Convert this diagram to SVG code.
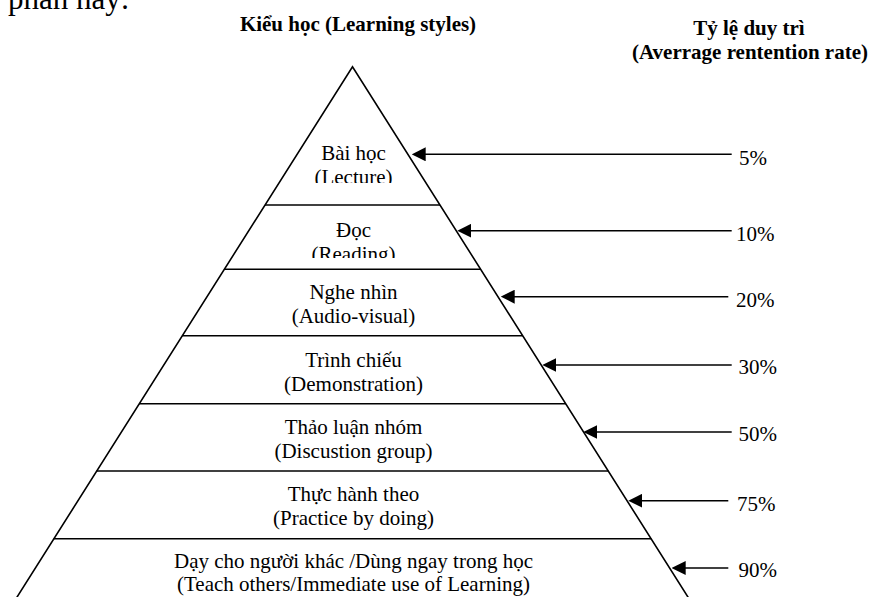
<svg xmlns="http://www.w3.org/2000/svg" width="872" height="597" viewBox="0 0 872 597">
<defs>
<style>
.t{font-family:"Liberation Serif","Times New Roman",serif;font-size:21px;fill:#000;text-anchor:middle}
.b{font-weight:bold}
.p{text-anchor:start}
.edge{fill:none;stroke:#000;stroke-width:1.6}
.sep{stroke:#000;stroke-width:1.6}
.arr{stroke:#000;stroke-width:1.6;marker-end:url(#ah)}
</style>
<marker id="ah" viewBox="0 0 14 14" refX="4" refY="7" markerWidth="14" markerHeight="14" markerUnits="userSpaceOnUse" orient="auto">
<path d="M0,0 L14,7 L0,14 z" fill="#000"/>
</marker>
<clipPath id="c1"><rect x="0" y="100" width="872" height="83"/></clipPath>
<clipPath id="c2"><rect x="0" y="206" width="872" height="52"/></clipPath>
</defs>
<rect width="872" height="597" fill="#fff"/>
<text class="t p" x="8" y="9" style="font-size:31px">phần này:</text>
<text class="t b" x="358" y="31">Kiểu học (Learning styles)</text>
<g id="title-rate">
<text class="t b" x="749" y="35">Tỷ lệ duy trì</text>
<text class="t b" x="750" y="59">(Averrage rentention rate)</text>
</g>
<g id="pyramid">
<polyline class="edge" points="13.9,602 352.5,66.7 691.1,602"/>
</g>
<g id="layer-lecture" clip-path="url(#c1)">
<text class="t" x="353.5" y="160">Bài học</text>
<text class="t" x="353.5" y="184">(Lecture)</text>
</g>
<g id="layer-reading">
<line class="sep" x1="265" y1="205" x2="440" y2="205"/>
<g clip-path="url(#c2)">
<text class="t" x="353.5" y="236.5">Đọc</text>
<text class="t" x="353.5" y="260.5">(Reading)</text>
</g>
</g>
<g id="layer-audio">
<line class="sep" x1="224.3" y1="269.3" x2="480.7" y2="269.3"/>
<text class="t" x="353.5" y="299.3">Nghe nhìn</text>
<text class="t" x="353.5" y="323.3">(Audio-visual)</text>
</g>
<g id="layer-demo">
<line class="sep" x1="182.2" y1="335.7" x2="522.8" y2="335.7"/>
<text class="t" x="353.5" y="366.7">Trình chiếu</text>
<text class="t" x="353.5" y="390.5">(Demonstration)</text>
</g>
<g id="layer-discussion">
<line class="sep" x1="139.1" y1="403.8" x2="565.9" y2="403.8"/>
<text class="t" x="353.5" y="434">Thảo luận nhóm</text>
<text class="t" x="353.5" y="457.5">(Discustion group)</text>
</g>
<g id="layer-practice">
<line class="sep" x1="96.6" y1="471" x2="608.4" y2="471"/>
<text class="t" x="353.5" y="501">Thực hành theo</text>
<text class="t" x="353.5" y="525">(Practice by doing)</text>
</g>
<g id="layer-teach">
<line class="sep" x1="53.7" y1="538.7" x2="651.3" y2="538.7"/>
<text class="t" x="353.5" y="567.5">Dạy cho người khác /Dùng ngay trong học</text>
<text class="t" x="353.5" y="591">(Teach others/Immediate use of Learning)</text>
</g>
<g id="rates">
<text class="t p" x="739" y="164.5">5%</text>
<text class="t p" x="736" y="240.5">10%</text>
<text class="t p" x="736" y="306.5">20%</text>
<text class="t p" x="738.5" y="374">30%</text>
<text class="t p" x="738.5" y="441">50%</text>
<text class="t p" x="737" y="510.5">75%</text>
<text class="t p" x="738.5" y="577">90%</text>
</g>
<g id="connectors">
<line class="arr" x1="731.7" y1="154.3" x2="421.7" y2="154.3"/>
<line class="arr" x1="731.7" y1="230.7" x2="467.3" y2="230.7"/>
<line class="arr" x1="728.3" y1="296.7" x2="510.7" y2="296.7"/>
<line class="arr" x1="731.7" y1="365" x2="552.3" y2="365"/>
<line class="arr" x1="731.7" y1="432" x2="593.3" y2="432"/>
<line class="arr" x1="728.3" y1="500.7" x2="638.3" y2="500.7"/>
<line class="arr" x1="728.3" y1="568" x2="681.7" y2="568"/>
</g>
</svg>
